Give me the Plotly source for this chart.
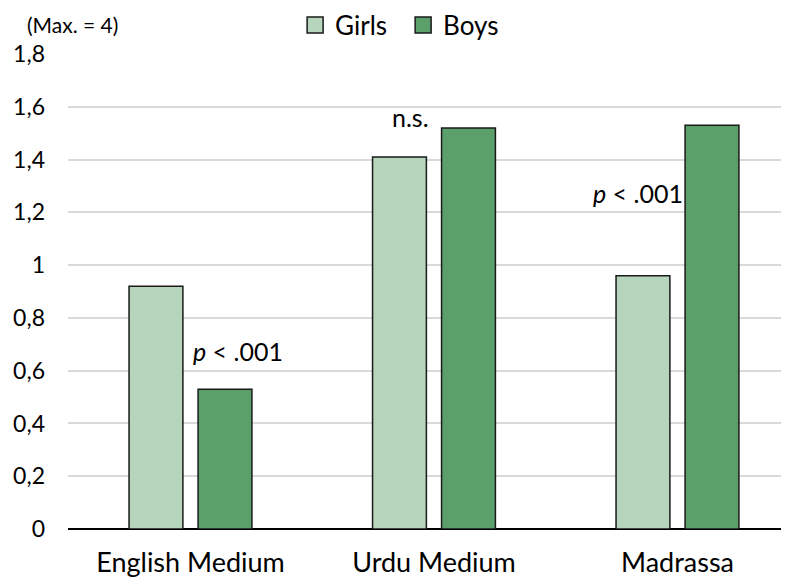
import plotly.graph_objects as go

categories = ["English Medium", "Urdu Medium", "Madrassa"]
girls = [0.92, 1.41, 0.96]
boys = [0.53, 1.52, 1.53]

FONT = "Lato, Carlito, Calibri, sans-serif"
GIRLS_COLOR = "#B5D5BC"
BOYS_COLOR = "#5BA06B"

fig = go.Figure()
fig.add_trace(go.Bar(name="Girls", x=categories, y=girls, showlegend=False,
                     marker=dict(color=GIRLS_COLOR, line=dict(color="#1a1a1a", width=1.5))))
fig.add_trace(go.Bar(name="Boys", x=categories, y=boys, showlegend=False,
                     marker=dict(color=BOYS_COLOR, line=dict(color="#1a1a1a", width=1.5))))
# legend entries with square swatches
for name, col in [("Girls", GIRLS_COLOR), ("Boys", BOYS_COLOR)]:
    fig.add_trace(go.Scatter(name=name, x=[None], y=[None], mode="markers",
                             marker=dict(symbol="square", size=18, color=col,
                                         line=dict(color="#1a1a1a", width=1.5))))

fig.update_layout(
    width=781, height=573,
    margin=dict(l=60, r=0, t=46, b=52, autoexpand=False),
    paper_bgcolor="white", plot_bgcolor="white",
    barmode="group", bargap=0.433, bargroupgap=0.22,
    separators=",.",
    font=dict(family=FONT, size=24, color="#000000"),
    showlegend=True,
    legend=dict(orientation="h", x=0.315, xanchor="left", y=1.061, yanchor="middle",
                font=dict(size=26), itemsizing="trace", traceorder="normal",
                entrywidth=63, itemwidth=30,
                bgcolor="rgba(0,0,0,0)"),
    xaxis=dict(range=[-0.503, 2.458], showgrid=False, ticks="", showline=False,
               tickfont=dict(size=27), zeroline=False, ticklabelstandoff=15),
    yaxis=dict(range=[0, 1.8], dtick=0.2, tick0=0, showgrid=True, gridcolor="#D9D9D9",
               gridwidth=1.5, zeroline=True, zerolinecolor="#000000", zerolinewidth=1.5,
               showline=False, ticks="", tickfont=dict(size=23), ticklabelstandoff=22),
    annotations=[
        dict(text="(Max. = 4)", xref="paper", yref="paper", x=-0.06, y=1.063,
             xanchor="left", yanchor="middle", showarrow=False, font=dict(size=21)),
        dict(text="n.s.", xref="x", yref="y", x=0.905, y=1.56, xanchor="center",
             yanchor="middle", showarrow=False, font=dict(size=25)),
        dict(text="<i>p</i> < .001", xref="x", yref="y", x=0.195, y=0.675,
             xanchor="center", yanchor="middle", showarrow=False, font=dict(size=25)),
        dict(text="<i>p</i> < .001", xref="x", yref="y", x=2.03, y=1.275,
             xanchor="right", yanchor="middle", showarrow=False, font=dict(size=25)),
    ],
)

fig.write_html("out.html")
